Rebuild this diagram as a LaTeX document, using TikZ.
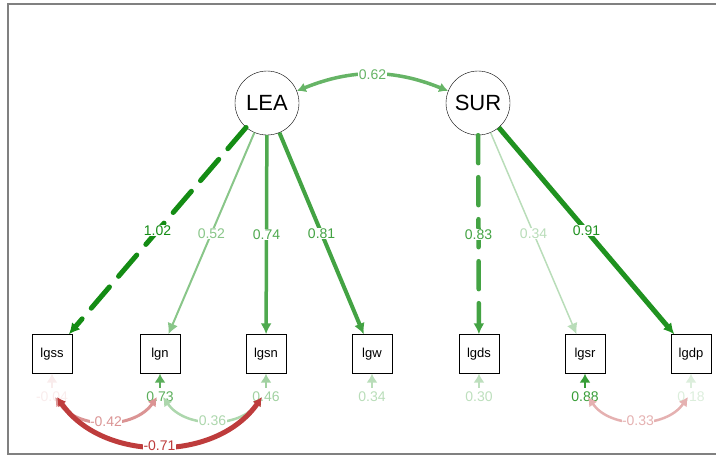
\documentclass[tikz,border=0pt]{standalone}
\usepackage{fontspec}
\setmainfont{Liberation Sans}
\usepackage{tikz}
\usetikzlibrary{arrows.meta}

\definecolor{posg}{RGB}{20,140,20}
\definecolor{negr}{RGB}{190,60,60}

\begin{document}
\begin{tikzpicture}[x=1pt,y=1pt,
  latent/.style={draw, circle, minimum size=64pt, inner sep=0pt, font=\fontsize{22}{24}\selectfont},
  manifest/.style={draw, rectangle, minimum width=40pt, minimum height=39pt, inner sep=0pt, font=\fontsize{13}{15}\selectfont},
  lbl/.style={fill=white, inner sep=0.5pt, font=\fontsize{14}{16}\selectfont},
  reslbl/.style={inner sep=0pt, font=\fontsize{14}{16}\selectfont},
  load/.style={-{Latex[length=11pt,width=11pt]}},
  fixed/.style={dash pattern=on 28pt off 14pt, line cap=round},
  resid/.style={-{Latex[length=9pt,width=11pt]}, line width=1.5pt, shorten <=4pt},
  cov/.style={{Latex[length=9pt,width=10pt]}-{Latex[length=9pt,width=10pt]}}]
\useasboundingbox (0,0) rectangle (716,-456);
\draw[gray, line width=1.5pt] (716,-4) -- (8,-4) -- (8,-454) -- (716,-454);

\node[latent] (LEA) at (267,-103) {LEA};
\node[latent] (SUR) at (478,-103) {SUR};

\node[manifest] (lgss) at (52,-354) {lgss};
\node[manifest] (lgn) at (160,-354) {lgn};
\node[manifest] (lgsn) at (266,-354) {lgsn};
\node[manifest] (lgw) at (372,-354) {lgw};
\node[manifest] (lgds) at (479,-354) {lgds};
\node[manifest] (lgsr) at (585,-354) {lgsr};
\node[manifest] (lgdp) at (691,-354) {lgdp};

\node[reslbl, text=negr!10] (rlgss) at (52,-397) {-0.04};
\node[reslbl, text=posg!70] (rlgn) at (160,-397) {0.73};
\node[reslbl, text=posg!40] (rlgsn) at (266,-397) {0.46};
\node[reslbl, text=posg!30] (rlgw) at (372,-397) {0.34};
\node[reslbl, text=posg!28] (rlgds) at (479,-397) {0.30};
\node[reslbl, text=posg!85] (rlgsr) at (585,-397) {0.88};
\node[reslbl, text=posg!15] (rlgdp) at (691,-397) {0.18};

\draw[resid, negr!10] (rlgss) -- (lgss);
\draw[resid, posg!70] (rlgn) -- (lgn);
\draw[resid, posg!40] (rlgsn) -- (lgsn);
\draw[resid, posg!30] (rlgw) -- (lgw);
\draw[resid, posg!28] (rlgds) -- (lgds);
\draw[resid, posg!85] (rlgsr) -- (lgsr);
\draw[resid, posg!15] (rlgdp) -- (lgdp);

\draw[load, fixed, posg, line width=5pt] (LEA) -- (lgss) node[lbl, pos=0.5, text=posg] {1.02};
\draw[load, posg!50, line width=2pt] (LEA) -- (lgn) node[lbl, pos=0.5] {0.52};
\draw[load, posg!75, line width=3.5pt] (LEA) -- (lgsn) node[lbl, pos=0.5] {0.74};
\draw[load, posg!80, line width=4pt] (LEA) -- (lgw) node[lbl, pos=0.5] {0.81};
\draw[load, fixed, posg!80, line width=4.5pt] (SUR) -- (lgds) node[lbl, pos=0.5] {0.83};
\draw[load, posg!30, line width=1.5pt] (SUR) -- (lgsr) node[lbl, pos=0.5] {0.34};
\draw[load, posg!95, line width=5pt] (SUR) -- (lgdp) node[lbl, pos=0.5] {0.91};

\draw[cov, posg!65, line width=3.5pt] (LEA) to[bend left=22] node[lbl] {0.62} (SUR);

\draw[cov, negr!55, line width=3pt] ([xshift=3pt]rlgss.center) to[bend right=55] node[lbl] {-0.42} ([xshift=-3pt]rlgn.center);
\draw[cov, posg!35, line width=2.5pt] ([xshift=3pt]rlgn.center) to[bend right=55] node[lbl] {0.36} ([xshift=-4pt]rlgsn.center);
\draw[cov, negr, line width=5pt] ([xshift=5pt]rlgss.center) to[bend right=55] node[lbl] {-0.71} ([xshift=-4pt]rlgsn.center);
\draw[cov, negr!40, line width=2.5pt] ([xshift=3pt]rlgsr.center) to[bend right=55] node[lbl] {-0.33} ([xshift=-3pt]rlgdp.center);
\end{tikzpicture}
\end{document}
